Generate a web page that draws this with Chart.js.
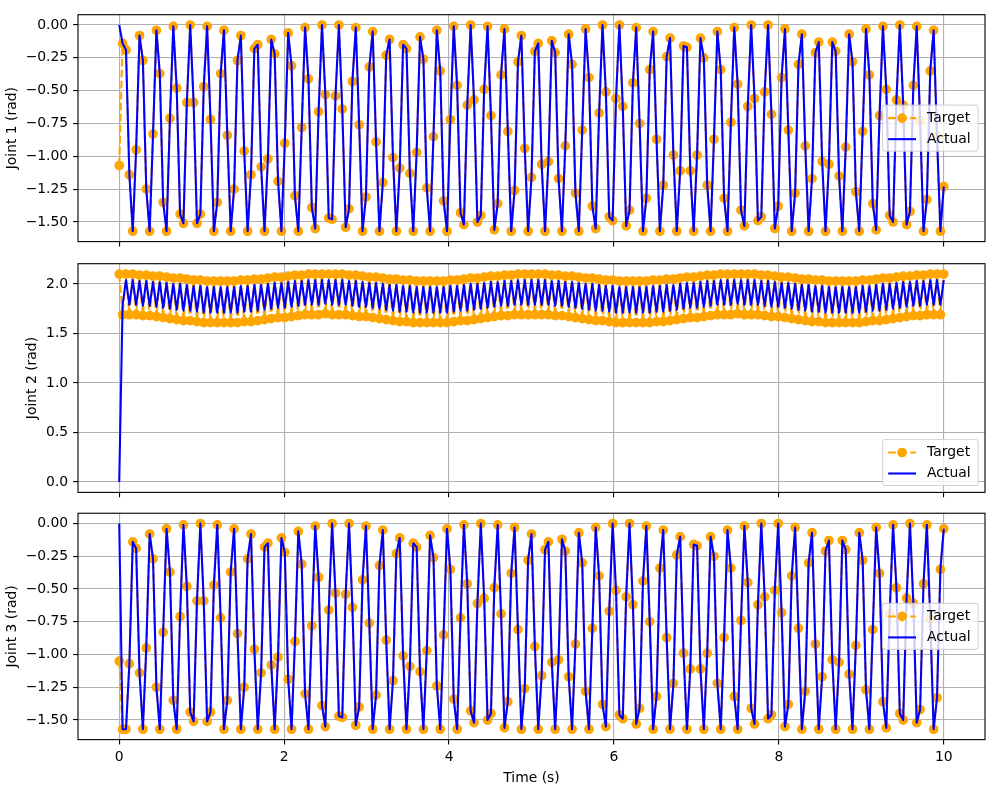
<!DOCTYPE html>
<html><head><meta charset="utf-8">
<script src="https://cdn.jsdelivr.net/npm/chart.js@4.4.0/dist/chart.umd.min.js"></script>
<style>
html,body{margin:0;padding:0;background:#fff;}
#wrap{position:relative;width:1000px;height:800px;overflow:hidden;background:#fff;}
canvas{position:absolute;left:0;}
</style></head><body>
<div id="wrap">
<canvas id="c1" width="1000" height="260" style="top:0px"></canvas>
<canvas id="c2" width="1000" height="260" style="top:250px"></canvas>
<canvas id="c3" width="1000" height="300" style="top:500px"></canvas>
</div>
<script>
// ---- data ----
const times = [
0,0.041,0.082,0.123,0.164, 0.205,0.246,0.287,0.328,0.369, 0.410,0.451,0.492,0.533,0.574, 0.615,0.656,0.697,0.738,0.779,
0.820,0.861,0.902,0.943,0.984, 1.025,1.066,1.107,1.148,1.189, 1.230,1.270,1.311,1.352,1.393, 1.434,1.475,1.516,1.557,1.598,
1.639,1.680,1.721,1.762,1.803, 1.844,1.885,1.926,1.967,2.008, 2.049,2.090,2.131,2.172,2.213, 2.254,2.295,2.336,2.377,2.418,
2.459,2.500,2.541,2.582,2.623, 2.664,2.705,2.746,2.787,2.828, 2.869,2.910,2.951,2.992,3.033, 3.074,3.115,3.156,3.197,3.238,
3.279,3.320,3.361,3.402,3.443, 3.484,3.525,3.566,3.607,3.648, 3.689,3.730,3.770,3.811,3.852, 3.893,3.934,3.975,4.016,4.057,
4.098,4.139,4.180,4.221,4.262, 4.303,4.344,4.385,4.426,4.467, 4.508,4.549,4.590,4.631,4.672, 4.713,4.754,4.795,4.836,4.877,
4.918,4.959,5.000,5.041,5.082, 5.123,5.164,5.205,5.246,5.287, 5.328,5.369,5.410,5.451,5.492, 5.533,5.574,5.615,5.656,5.697,
5.738,5.779,5.820,5.861,5.902, 5.943,5.984,6.025,6.066,6.107, 6.148,6.189,6.230,6.270,6.311, 6.352,6.393,6.434,6.475,6.516,
6.557,6.598,6.639,6.680,6.721, 6.762,6.803,6.844,6.885,6.926, 6.967,7.008,7.049,7.090,7.131, 7.172,7.213,7.254,7.295,7.336,
7.377,7.418,7.459,7.500,7.541, 7.582,7.623,7.664,7.705,7.746, 7.787,7.828,7.869,7.910,7.951, 7.992,8.033,8.074,8.115,8.156,
8.197,8.238,8.279,8.320,8.361, 8.402,8.443,8.484,8.525,8.566, 8.607,8.648,8.689,8.730,8.770, 8.811,8.852,8.893,8.934,8.975,
9.016,9.057,9.098,9.139,9.180, 9.221,9.262,9.303,9.344,9.385, 9.426,9.467,9.508,9.549,9.590, 9.631,9.672,9.713,9.754,9.795,
9.836,9.877,9.918,9.959,10.000
];

const target1 = [
-1.07,-0.14,-0.19,-1.14,-1.57, -0.95,-0.08,-0.27,-1.25,-1.57, -0.83,-0.04,-0.37,-1.35,-1.57, -0.71,-0.01,-0.48,-1.44,-1.51,
-0.59,0.00,-0.59,-1.51,-1.44, -0.47,-0.01,-0.72,-1.57,-1.35, -0.37,-0.04,-0.84,-1.57,-1.25, -0.27,-0.08,-0.96,-1.57,-1.14,
-0.18,-0.15,-1.08,-1.57,-1.02, -0.11,-0.22,-1.19,-1.57,-0.90, -0.06,-0.31,-1.30,-1.57,-0.78, -0.02,-0.41,-1.39,-1.55,-0.66,
0.00,-0.53,-1.47,-1.48,-0.54, 0.00,-0.64,-1.54,-1.40,-0.43, -0.02,-0.76,-1.57,-1.31,-0.32, -0.05,-0.89,-1.57,-1.20,-0.23,
-0.11,-1.01,-1.57,-1.09,-0.15, -0.18,-1.13,-1.57,-0.97,-0.09, -0.26,-1.24,-1.57,-0.85,-0.04, -0.35,-1.34,-1.57,-0.72,-0.01,
-0.46,-1.43,-1.52,-0.61,0.00, -0.57,-1.50,-1.45,-0.49,-0.01, -0.69,-1.56,-1.36,-0.38,-0.03, -0.81,-1.57,-1.26,-0.28,-0.08,
-0.94,-1.57,-1.16,-0.20,-0.14, -1.06,-1.57,-1.04,-0.12,-0.21, -1.17,-1.57,-0.92,-0.07,-0.30, -1.28,-1.57,-0.80,-0.03,-0.40,
-1.38,-1.55,-0.67,0.00,-0.51, -1.46,-1.49,-0.56,0.00,-0.62, -1.53,-1.41,-0.44,-0.02,-0.75, -1.57,-1.32,-0.34,-0.05,-0.87,
-1.57,-1.22,-0.24,-0.10,-0.99, -1.57,-1.11,-0.16,-0.17,-1.11, -1.57,-0.99,-0.10,-0.25,-1.22, -1.57,-0.87,-0.05,-0.34,-1.32,
-1.57,-0.74,-0.02,-0.45,-1.41, -1.53,-0.62,0.00,-0.56,-1.49, -1.46,-0.51,0.00,-0.68,-1.55, -1.38,-0.40,-0.03,-0.80,-1.57,
-1.28,-0.30,-0.07,-0.92,-1.57, -1.17,-0.21,-0.13,-1.04,-1.57, -1.06,-0.13,-0.20,-1.15,-1.57, -0.93,-0.07,-0.28,-1.27,-1.57,
-0.81,-0.03,-0.38,-1.36,-1.56, -0.69,-0.01,-0.49,-1.45,-1.50, -0.57,0.00,-0.61,-1.52,-1.42, -0.46,-0.01,-0.73,-1.57,-1.33,
-0.35,-0.04,-0.85,-1.57,-1.23
];

const actual1 = [
0,-0.14,-0.19,-1.14,-1.57, -0.95,-0.08,-0.27,-1.25,-1.57, -0.83,-0.04,-0.37,-1.35,-1.57, -0.71,-0.01,-0.48,-1.44,-1.51,
-0.59,0.00,-0.59,-1.51,-1.44, -0.47,-0.01,-0.72,-1.57,-1.35, -0.37,-0.04,-0.84,-1.57,-1.25, -0.27,-0.08,-0.96,-1.57,-1.14,
-0.18,-0.15,-1.08,-1.57,-1.02, -0.11,-0.22,-1.19,-1.57,-0.90, -0.06,-0.31,-1.30,-1.57,-0.78, -0.02,-0.41,-1.39,-1.55,-0.66,
0.00,-0.53,-1.47,-1.48,-0.54, 0.00,-0.64,-1.54,-1.40,-0.43, -0.02,-0.76,-1.57,-1.31,-0.32, -0.05,-0.89,-1.57,-1.20,-0.23,
-0.11,-1.01,-1.57,-1.09,-0.15, -0.18,-1.13,-1.57,-0.97,-0.09, -0.26,-1.24,-1.57,-0.85,-0.04, -0.35,-1.34,-1.57,-0.72,-0.01,
-0.46,-1.43,-1.52,-0.61,0.00, -0.57,-1.50,-1.45,-0.49,-0.01, -0.69,-1.56,-1.36,-0.38,-0.03, -0.81,-1.57,-1.26,-0.28,-0.08,
-0.94,-1.57,-1.16,-0.20,-0.14, -1.06,-1.57,-1.04,-0.12,-0.21, -1.17,-1.57,-0.92,-0.07,-0.30, -1.28,-1.57,-0.80,-0.03,-0.40,
-1.38,-1.55,-0.67,0.00,-0.51, -1.46,-1.49,-0.56,0.00,-0.62, -1.53,-1.41,-0.44,-0.02,-0.75, -1.57,-1.32,-0.34,-0.05,-0.87,
-1.57,-1.22,-0.24,-0.10,-0.99, -1.57,-1.11,-0.16,-0.17,-1.11, -1.57,-0.99,-0.10,-0.25,-1.22, -1.57,-0.87,-0.05,-0.34,-1.32,
-1.57,-0.74,-0.02,-0.45,-1.41, -1.53,-0.62,0.00,-0.56,-1.49, -1.46,-0.51,0.00,-0.68,-1.55, -1.38,-0.40,-0.03,-0.80,-1.57,
-1.28,-0.30,-0.07,-0.92,-1.57, -1.17,-0.21,-0.13,-1.04,-1.57, -1.06,-0.13,-0.20,-1.15,-1.57, -0.93,-0.07,-0.28,-1.27,-1.57,
-0.81,-0.03,-0.38,-1.36,-1.56, -0.69,-0.01,-0.49,-1.45,-1.50, -0.57,0.00,-0.61,-1.52,-1.42, -0.46,-0.01,-0.73,-1.57,-1.33,
-0.35,-0.04,-0.85,-1.57,-1.23
];

const target2 = [
2.10,1.69,2.10,1.69,2.10,1.69,2.09,1.68,2.09,1.68, 2.08,1.67,2.08,1.66,2.07,1.65,2.06,1.64,2.06,1.63,
2.05,1.63,2.04,1.62,2.04,1.61,2.03,1.61,2.03,1.61, 2.03,1.61,2.03,1.61,2.03,1.61,2.04,1.62,2.04,1.62,
2.05,1.63,2.05,1.64,2.06,1.65,2.07,1.66,2.07,1.66, 2.08,1.67,2.09,1.68,2.09,1.69,2.10,1.69,2.10,1.69,
2.10,1.70,2.10,1.69,2.10,1.69,2.10,1.69,2.09,1.68, 2.09,1.67,2.08,1.67,2.07,1.66,2.07,1.65,2.06,1.64,
2.05,1.63,2.05,1.62,2.04,1.62,2.04,1.61,2.03,1.61, 2.03,1.61,2.03,1.61,2.03,1.61,2.03,1.61,2.04,1.62,
2.04,1.63,2.05,1.63,2.06,1.64,2.06,1.65,2.07,1.66, 2.08,1.67,2.08,1.68,2.09,1.68,2.09,1.69,2.10,1.69,
2.10,1.69,2.10,1.69,2.10,1.69,2.10,1.69,2.09,1.68, 2.09,1.68,2.08,1.67,2.08,1.66,2.07,1.65,2.06,1.64,
2.06,1.63,2.05,1.63,2.04,1.62,2.04,1.61,2.03,1.61, 2.03,1.61,2.03,1.61,2.03,1.61,2.03,1.61,2.04,1.62,
2.04,1.62,2.05,1.63,2.05,1.64,2.06,1.65,2.07,1.66, 2.07,1.66,2.08,1.67,2.09,1.68,2.09,1.69,2.10,1.69,
2.10,1.69,2.10,1.70,2.10,1.69,2.10,1.69,2.10,1.69, 2.09,1.68,2.09,1.67,2.08,1.67,2.07,1.66,2.07,1.65,
2.06,1.64,2.05,1.63,2.05,1.62,2.04,1.62,2.04,1.61, 2.03,1.61,2.03,1.61,2.03,1.61,2.03,1.61,2.03,1.61,
2.04,1.62,2.04,1.63,2.05,1.63,2.06,1.64,2.06,1.65, 2.07,1.66,2.08,1.67,2.08,1.68,2.09,1.68,2.09,1.69,
2.10,1.69,2.10,1.69,2.10
];

const actual2 = [
0,1.79,2.04,1.79,2.04,1.79,2.03,1.78,2.03,1.78, 2.02,1.77,2.02,1.76,2.01,1.75,2.00,1.74,2.00,1.73,
1.99,1.73,1.98,1.72,1.98,1.71,1.97,1.71,1.97,1.71, 1.97,1.71,1.97,1.71,1.97,1.71,1.98,1.72,1.98,1.72,
1.99,1.73,1.99,1.74,2.00,1.75,2.01,1.76,2.01,1.76, 2.02,1.77,2.03,1.78,2.03,1.79,2.04,1.79,2.04,1.79,
2.04,1.80,2.04,1.79,2.04,1.79,2.04,1.79,2.03,1.78, 2.03,1.77,2.02,1.77,2.01,1.76,2.01,1.75,2.00,1.74,
1.99,1.73,1.99,1.72,1.98,1.72,1.98,1.71,1.97,1.71, 1.97,1.71,1.97,1.71,1.97,1.71,1.97,1.71,1.98,1.72,
1.98,1.73,1.99,1.73,2.00,1.74,2.00,1.75,2.01,1.76, 2.02,1.77,2.02,1.78,2.03,1.78,2.03,1.79,2.04,1.79,
2.04,1.79,2.04,1.79,2.04,1.79,2.04,1.79,2.03,1.78, 2.03,1.78,2.02,1.77,2.02,1.76,2.01,1.75,2.00,1.74,
2.00,1.73,1.99,1.73,1.98,1.72,1.98,1.71,1.97,1.71, 1.97,1.71,1.97,1.71,1.97,1.71,1.97,1.71,1.98,1.72,
1.98,1.72,1.99,1.73,1.99,1.74,2.00,1.75,2.01,1.76, 2.01,1.76,2.02,1.77,2.03,1.78,2.03,1.79,2.04,1.79,
2.04,1.79,2.04,1.80,2.04,1.79,2.04,1.79,2.04,1.79, 2.03,1.78,2.03,1.77,2.02,1.77,2.01,1.76,2.01,1.75,
2.00,1.74,1.99,1.73,1.99,1.72,1.98,1.72,1.98,1.71, 1.97,1.71,1.97,1.71,1.97,1.71,1.97,1.71,1.97,1.71,
1.98,1.72,1.98,1.73,1.99,1.73,2.00,1.74,2.00,1.75, 2.01,1.76,2.02,1.77,2.02,1.78,2.03,1.78,2.03,1.79,
2.04,1.79,2.04,1.79,2.04
];

const target3 = [
-1.05,-1.57,-1.57,
-1.07,-0.14,-0.19,-1.14,-1.57, -0.95,-0.08,-0.27,-1.25,-1.57, -0.83,-0.04,-0.37,-1.35,-1.57, -0.71,-0.01,-0.48,-1.44,-1.51,
-0.59,0.00,-0.59,-1.51,-1.44, -0.47,-0.01,-0.72,-1.57,-1.35, -0.37,-0.04,-0.84,-1.57,-1.25, -0.27,-0.08,-0.96,-1.57,-1.14,
-0.18,-0.15,-1.08,-1.57,-1.02, -0.11,-0.22,-1.19,-1.57,-0.90, -0.06,-0.31,-1.30,-1.57,-0.78, -0.02,-0.41,-1.39,-1.55,-0.66,
0.00,-0.53,-1.47,-1.48,-0.54, 0.00,-0.64,-1.54,-1.40,-0.43, -0.02,-0.76,-1.57,-1.31,-0.32, -0.05,-0.89,-1.57,-1.20,-0.23,
-0.11,-1.01,-1.57,-1.09,-0.15, -0.18,-1.13,-1.57,-0.97,-0.09, -0.26,-1.24,-1.57,-0.85,-0.04, -0.35,-1.34,-1.57,-0.72,-0.01,
-0.46,-1.43,-1.52,-0.61,0.00, -0.57,-1.50,-1.45,-0.49,-0.01, -0.69,-1.56,-1.36,-0.38,-0.03, -0.81,-1.57,-1.26,-0.28,-0.08,
-0.94,-1.57,-1.16,-0.20,-0.14, -1.06,-1.57,-1.04,-0.12,-0.21, -1.17,-1.57,-0.92,-0.07,-0.30, -1.28,-1.57,-0.80,-0.03,-0.40,
-1.38,-1.55,-0.67,0.00,-0.51, -1.46,-1.49,-0.56,0.00,-0.62, -1.53,-1.41,-0.44,-0.02,-0.75, -1.57,-1.32,-0.34,-0.05,-0.87,
-1.57,-1.22,-0.24,-0.10,-0.99, -1.57,-1.11,-0.16,-0.17,-1.11, -1.57,-0.99,-0.10,-0.25,-1.22, -1.57,-0.87,-0.05,-0.34,-1.32,
-1.57,-0.74,-0.02,-0.45,-1.41, -1.53,-0.62,0.00,-0.56,-1.49, -1.46,-0.51,0.00,-0.68,-1.55, -1.38,-0.40,-0.03,-0.80,-1.57,
-1.28,-0.30,-0.07,-0.92,-1.57, -1.17,-0.21,-0.13,-1.04,-1.57, -1.06,-0.13,-0.20,-1.15,-1.57, -0.93,-0.07,-0.28,-1.27,-1.57,
-0.81,-0.03,-0.38,-1.36,-1.56, -0.69,-0.01,-0.49,-1.45,-1.50, -0.57,0.00,-0.61,-1.52,-1.42, -0.46,-0.01,-0.73,-1.57,-1.33,
-0.35,-0.04
];

const actual3 = [
0,-1.57,-1.57,
-1.07,-0.14,-0.19,-1.14,-1.57, -0.95,-0.08,-0.27,-1.25,-1.57, -0.83,-0.04,-0.37,-1.35,-1.57, -0.71,-0.01,-0.48,-1.44,-1.51,
-0.59,0.00,-0.59,-1.51,-1.44, -0.47,-0.01,-0.72,-1.57,-1.35, -0.37,-0.04,-0.84,-1.57,-1.25, -0.27,-0.08,-0.96,-1.57,-1.14,
-0.18,-0.15,-1.08,-1.57,-1.02, -0.11,-0.22,-1.19,-1.57,-0.90, -0.06,-0.31,-1.30,-1.57,-0.78, -0.02,-0.41,-1.39,-1.55,-0.66,
0.00,-0.53,-1.47,-1.48,-0.54, 0.00,-0.64,-1.54,-1.40,-0.43, -0.02,-0.76,-1.57,-1.31,-0.32, -0.05,-0.89,-1.57,-1.20,-0.23,
-0.11,-1.01,-1.57,-1.09,-0.15, -0.18,-1.13,-1.57,-0.97,-0.09, -0.26,-1.24,-1.57,-0.85,-0.04, -0.35,-1.34,-1.57,-0.72,-0.01,
-0.46,-1.43,-1.52,-0.61,0.00, -0.57,-1.50,-1.45,-0.49,-0.01, -0.69,-1.56,-1.36,-0.38,-0.03, -0.81,-1.57,-1.26,-0.28,-0.08,
-0.94,-1.57,-1.16,-0.20,-0.14, -1.06,-1.57,-1.04,-0.12,-0.21, -1.17,-1.57,-0.92,-0.07,-0.30, -1.28,-1.57,-0.80,-0.03,-0.40,
-1.38,-1.55,-0.67,0.00,-0.51, -1.46,-1.49,-0.56,0.00,-0.62, -1.53,-1.41,-0.44,-0.02,-0.75, -1.57,-1.32,-0.34,-0.05,-0.87,
-1.57,-1.22,-0.24,-0.10,-0.99, -1.57,-1.11,-0.16,-0.17,-1.11, -1.57,-0.99,-0.10,-0.25,-1.22, -1.57,-0.87,-0.05,-0.34,-1.32,
-1.57,-0.74,-0.02,-0.45,-1.41, -1.53,-0.62,0.00,-0.56,-1.49, -1.46,-0.51,0.00,-0.68,-1.55, -1.38,-0.40,-0.03,-0.80,-1.57,
-1.28,-0.30,-0.07,-0.92,-1.57, -1.17,-0.21,-0.13,-1.04,-1.57, -1.06,-0.13,-0.20,-1.15,-1.57, -0.93,-0.07,-0.28,-1.27,-1.57,
-0.81,-0.03,-0.38,-1.36,-1.56, -0.69,-0.01,-0.49,-1.45,-1.50, -0.57,0.00,-0.61,-1.52,-1.42, -0.46,-0.01,-0.73,-1.57,-1.33,
-0.35,-0.04
];

const xTicks = [0, 2, 4, 6, 8, 10];
const yTicks1 = [-1.5, -1.25, -1.0, -0.75, -0.5, -0.25, 0.0];
const yTicks2 = [0.0, 0.5, 1.0, 1.5, 2.0];
const yTicks3 = [-1.5, -1.25, -1.0, -0.75, -0.5, -0.25, 0.0];
const seriesLabels = ['Target', 'Actual'];
const yTitles = ['Joint 1 (rad)', 'Joint 2 (rad)', 'Joint 3 (rad)'];
const xTitle = 'Time (s)';

// ---- styling ----
const ORANGE = '#ffa500';
const BLUE = '#0000ff';
const FONT = "'DejaVu Sans', sans-serif";
const FS = 13.9;
Chart.defaults.font.family = FONT;
Chart.defaults.font.size = FS;
Chart.defaults.color = '#000';

function fmt(v, d) {
  return Number(v).toFixed(d).replace('-', '\u2212');
}

const framePlugin = {
  id: 'frame',
  afterDatasetsDraw(chart) {
    const {ctx, chartArea: a} = chart;
    ctx.save();
    ctx.strokeStyle = '#000';
    ctx.lineWidth = 1.1;
    ctx.strokeRect(a.left, a.top, a.right - a.left, a.bottom - a.top);
    ctx.restore();
  }
};

const legendPlugin = {
  id: 'mplLegend',
  afterDraw(chart, args, opts) {
    const {ctx, chartArea: a} = chart;
    const w = 95.5, h = 46;
    const left = a.right - 6.9 - w;
    const top = opts.where === 'lower right' ? a.bottom - 6.9 - h : (a.top + a.bottom) / 2 - h / 2;
    ctx.save();
    ctx.beginPath();
    ctx.roundRect(left, top, w, h, 2.8);
    ctx.fillStyle = 'rgba(255,255,255,0.8)';
    ctx.fill();
    ctx.strokeStyle = 'rgba(204,204,204,0.8)';
    ctx.lineWidth = 1.1;
    ctx.stroke();
    const hx0 = left + 5.6, hx1 = hx0 + 27.8, tx = hx1 + 11.1;
    const r0 = top + 13, r1 = top + 34;
    ctx.strokeStyle = ORANGE;
    ctx.lineWidth = 2.08;
    ctx.setLineDash([7.7, 3.3]);
    ctx.beginPath(); ctx.moveTo(hx0, r0); ctx.lineTo(hx1, r0); ctx.stroke();
    ctx.setLineDash([]);
    ctx.beginPath(); ctx.arc((hx0 + hx1) / 2, r0, 4.17, 0, Math.PI * 2);
    ctx.fillStyle = ORANGE; ctx.fill(); ctx.lineWidth = 1.39; ctx.stroke();
    ctx.strokeStyle = BLUE;
    ctx.lineWidth = 2.08;
    ctx.beginPath(); ctx.moveTo(hx0, r1); ctx.lineTo(hx1, r1); ctx.stroke();
    ctx.fillStyle = '#000';
    ctx.font = FS + 'px ' + FONT;
    ctx.textBaseline = 'middle';
    ctx.textAlign = 'left';
    ctx.fillText(seriesLabels[0], tx, r0);
    ctx.fillText(seriesLabels[1], tx, r1);
    ctx.restore();
  }
};

function makeChart(id, o) {
  const gridOpts = {color: '#b0b0b0', lineWidth: 1.1, tickColor: '#000', tickLength: 4.9, tickWidth: 1.1, drawTicks: true};
  return new Chart(document.getElementById(id), {
    type: 'line',
    data: {
      labels: times,
      datasets: [
        {label: seriesLabels[0], data: o.target, borderColor: ORANGE, backgroundColor: ORANGE,
         borderWidth: 2.08, borderDash: [7.7, 3.3], borderJoinStyle: 'round',
         pointRadius: 4.17, pointBorderWidth: 1.39, pointBackgroundColor: ORANGE, pointBorderColor: ORANGE,
         pointHoverRadius: 4.17, order: 2, tension: 0},
        {label: seriesLabels[1], data: o.actual, borderColor: BLUE, backgroundColor: BLUE,
         borderWidth: 2.08, borderJoinStyle: 'round', pointRadius: 0, pointHoverRadius: 0, order: 1, tension: 0}
      ]
    },
    options: {
      responsive: false,
      animation: false,
      devicePixelRatio: 1,
      events: [],
      layout: {padding: {left: 0, right: 15, top: o.padTop, bottom: 0}},
      plugins: {legend: {display: false}, tooltip: {enabled: false}, mplLegend: {where: o.legendWhere}},
      scales: {
        x: {
          type: 'linear', min: -0.5, max: 10.5,
          afterBuildTicks: s => { s.ticks = xTicks.map(v => ({value: v})); },
          afterFit: s => { s.height = o.xAxisH; },
          grid: gridOpts,
          border: {display: false},
          ticks: {display: o.showX, padding: 4.9, maxRotation: 0, autoSkip: false, color: '#000',
                  font: {size: FS}, callback: v => String(v)},
          title: {display: o.showX, text: xTitle, color: '#000', font: {size: FS, lineHeight: 1.2},
                  padding: {top: 0, bottom: 13.7}}
        },
        y: {
          type: 'linear', min: o.yMin, max: o.yMax,
          afterBuildTicks: s => { s.ticks = o.yTicks.map(v => ({value: v})); },
          afterFit: s => { s.width = 78; },
          grid: gridOpts,
          border: {display: false},
          ticks: {padding: 4.9, color: '#000', font: {size: FS}, callback: v => fmt(v, o.dec)},
          title: {display: true, text: o.yTitle, color: '#000', font: {size: FS, lineHeight: 1.2},
                  padding: {top: o.titlePad, bottom: 0}}
        }
      }
    },
    plugins: [framePlugin, legendPlugin]
  });
}

makeChart('c1', {target: target1, actual: actual1, yMin: -1.6493, yMax: 0.0785, yTicks: yTicks1, dec: 2,
  yTitle: yTitles[0], titlePad: 3.7, padTop: 14.7, xAxisH: 18.4, showX: false, legendWhere: 'center right'});
makeChart('c2', {target: target2, actual: actual2, yMin: -0.105, yMax: 2.205, yTicks: yTicks2, dec: 1,
  yTitle: yTitles[1], titlePad: 23.7, padTop: 13.7, xAxisH: 17.6, showX: false, legendWhere: 'lower right'});
makeChart('c3', {target: target3, actual: actual3, yMin: -1.6493, yMax: 0.0785, yTicks: yTicks3, dec: 2,
  yTitle: yTitles[2], titlePad: 3.7, padTop: 12.7, xAxisH: 60.4, showX: true, legendWhere: 'center right'});
</script>
</body></html>
